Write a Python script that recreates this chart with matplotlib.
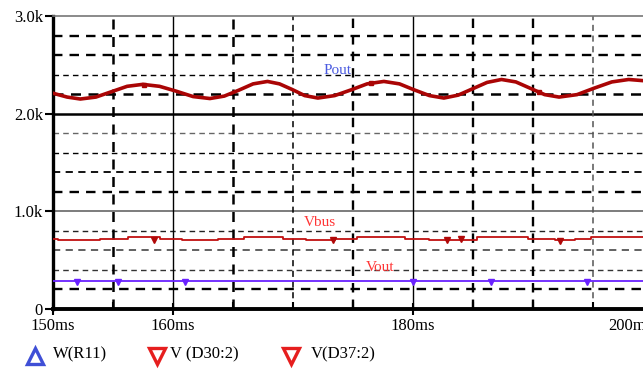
"""Recreate PSpice-style plot: Pout, Vbus, Vout vs time (150ms..200ms)."""

import numpy as np
import matplotlib
matplotlib.use('Agg')
import matplotlib.pyplot as plt
from matplotlib.lines import Line2D

plt.rcParams['font.family'] = ['Liberation Serif', 'DejaVu Serif']

# time in ms, values in W / V
pout_t = [150.0, 151.2, 152.3, 153.6, 154.9, 156.2, 157.5, 158.9, 160.3, 161.7,
          163.1, 164.3, 165.5, 166.7, 167.9, 168.9, 170.0, 171.0, 172.1, 173.5,
          174.9, 176.2, 177.6, 178.9, 180.1, 181.4, 182.6, 183.8, 185.0, 186.2,
          187.4, 188.6, 189.8, 191.0, 192.2, 193.7, 195.1, 196.6, 198.0, 199.5, 200.5]
pout_v = [2210, 2170, 2150, 2170, 2225, 2280, 2300, 2280, 2230, 2175,
          2155, 2180, 2240, 2305, 2330, 2305, 2245, 2185, 2160, 2185,
          2245, 2305, 2330, 2305, 2245, 2185, 2160, 2190, 2255, 2320,
          2350, 2325, 2260, 2195, 2170, 2195, 2260, 2325, 2350, 2335, 2300]

vbus_t = [150.0, 150.4, 153.9, 156.3, 158.9, 160.8, 163.8, 165.9, 169.2, 171.1,
          173.5, 175.4, 179.4, 181.4, 185.4, 189.6, 191.9, 193.5, 194.9, 200.5]
vbus_v = [720, 705, 720, 740, 720, 705, 720, 740, 720, 705,
          720, 740, 720, 705, 740, 720, 705, 720, 740, 740]

vout_t = [150.0, 200.5]
vout_v = [285, 285]

# trace marker positions (ms)
pout_mk = [157.6, 176.5, 190.5]
vbus_mk = [158.4, 173.4, 182.9, 184.0, 192.3]
vout_mk = [152.0, 155.4, 161.0, 180.0, 186.5, 194.5]

xticks = [150, 160, 180, 200]
xlabels = ['150ms', '160ms', '180ms', '200ms']
yticks = [0, 1000, 2000, 3000]
ylabels = ['0', '1.0k', '2.0k', '3.0k']

fig = plt.figure(figsize=(6.43, 3.73), dpi=100)
ax = fig.add_axes([0.082, 0.1716, 0.933, 0.7855])
ax.set_xlim(150, 200)
ax.set_ylim(0, 3000)

# grid
dash = (0, (4, 3))
hgrid = {2800: ('k', 1.7), 2600: ('k', 1.7), 2400: ('k', 1.0), 2200: ('k', 1.8),
         1800: ('#666666', 1.0), 1600: ('k', 1.0), 1400: ('k', 1.3), 1200: ('k', 1.7),
         800: ('#222222', 1.0), 600: ('#555555', 1.3), 400: ('#333333', 1.0), 200: ('k', 1.7)}
for y, (c, lw) in hgrid.items():
    ax.axhline(y, color=c, lw=lw, ls=dash, zorder=1)
ax.axhline(2000, color='k', lw=1.8, zorder=1)
ax.axhline(1000, color='#666666', lw=1.2, zorder=1)
vgrid = {155: ('k', 1.8), 165: ('k', 1.8), 170: ('k', 1.1), 175: ('k', 1.7),
         185: ('k', 1.7), 190: ('k', 1.7), 195: ('#555555', 1.1)}
for x, (c, lw) in vgrid.items():
    ax.axvline(x, color=c, lw=lw, ls=dash, zorder=1)
for x in (160, 180):
    ax.axvline(x, color='k', lw=1.0, zorder=1)

# traces
ax.plot(pout_t, pout_v, color='#aa0505', lw=2.6, zorder=3)
ax.plot(pout_mk, np.interp(pout_mk, pout_t, pout_v), 's', color='#aa0505', ms=3.5, zorder=3)
ax.step(vbus_t, vbus_v, where='post', color='#c01010', lw=1.3, zorder=3)
ax.plot(vbus_mk, np.interp(vbus_mk, vbus_t, vbus_v) - 15, 'v', color='#b00808', ms=4.5, zorder=3)
ax.plot(vout_t, vout_v, color='#6a22ff', lw=1.3, zorder=3)
ax.plot(vout_mk, np.interp(vout_mk, vout_t, vout_v) - 10, 'v', color='#6a22ff', ms=4.5, zorder=3)

# trace labels
ax.text(173.7, 2440, 'Pout', color='#4a5ae0', fontsize=11, ha='center', va='center')
ax.text(172.3, 890, 'Vbus', color='#ff3535', fontsize=11, ha='center', va='center')
ax.text(177.3, 420, 'Vout', color='#ff3535', fontsize=11, ha='center', va='center')

# axes frame
ax.spines['right'].set_visible(False)
ax.spines['top'].set_color('#777777')
ax.spines['top'].set_linewidth(1.2)
ax.spines['left'].set_linewidth(2.4)
ax.spines['bottom'].set_linewidth(2.8)

ax.set_xticks(xticks)
ax.set_xticklabels(xlabels)
ax.set_xticks([155, 165, 170, 175, 185, 190, 195], minor=True)
ax.set_yticks(yticks)
ax.set_yticklabels(ylabels)
ax.tick_params(axis='x', direction='inout', length=9, width=1.5, labelsize=12, pad=2)
ax.tick_params(axis='x', which='minor', direction='in', length=5, width=1.5)
ax.tick_params(axis='y', direction='out', length=6, width=1.5, labelsize=12, pad=1)
# last label sits left of its tick, as in the screenshot
ax.get_xticklabels()[-1].set_horizontalalignment('right')

# legend below the plot
legend = [('^', '#3f4fd6', 'W(R11)', 35, 53),
          ('v', '#e61e1e', 'V (D30:2)', 157, 170),
          ('v', '#e61e1e', 'V(D37:2)', 291, 311)]
for m, c, label, mx, tx in legend:
    fig.add_artist(Line2D([mx / 643], [1 - 356 / 373], marker=m, ms=12, mfc='none',
                          mec=c, mew=2.4, transform=fig.transFigure))
    fig.text(tx / 643, 1 - 354 / 373, label, fontsize=12, va='center', ha='left')

plt.savefig('out.png', dpi=100)
